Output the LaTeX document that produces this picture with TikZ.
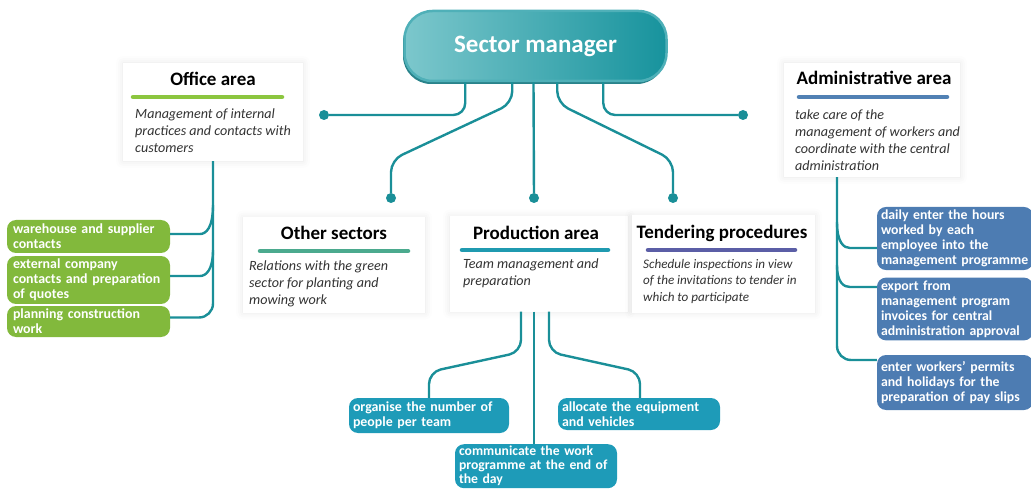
\documentclass[tikz,border=0pt]{standalone}
\usepackage{fontspec}
\setmainfont{Carlito}
\usetikzlibrary{shadows,shadows.blur}

\definecolor{linkteal}{HTML}{1A8F98}
\definecolor{mgrlight}{HTML}{7CC7CC}
\definecolor{mgrdark}{HTML}{17939D}
\definecolor{mgrrim}{HTML}{4FB0B8}
\definecolor{officegreen}{HTML}{8CC63F}
\definecolor{othergreen}{HTML}{4BAA8E}
\definecolor{prodblue}{HTML}{1F9AB0}
\definecolor{tendviolet}{HTML}{5B5EA6}
\definecolor{admblue}{HTML}{5181B4}
\definecolor{greenbox}{HTML}{82B93C}
\definecolor{bluebox}{HTML}{4D7CB2}
\definecolor{tealbox}{HTML}{1E9BB8}
\definecolor{desctext}{HTML}{333333}

\begin{document}
\begin{tikzpicture}
		[x=1pt,y=-1pt,
		 link/.style={draw=linkteal,line width=2.4pt,rounded corners=12pt},
		 dot/.style={circle,fill=linkteal,inner sep=0pt,minimum size=10pt},
		 card/.style={fill=white,inner sep=0pt,
			blur shadow={shadow xshift=0pt,shadow yshift=0pt,shadow blur radius=7pt,shadow opacity=10}},
		 ttl/.style={font=\bfseries\fontsize{19}{22}\selectfont,text=black,inner sep=0pt},
		 bar/.style={line width=4.5pt,line cap=round},
		 desc/.style={anchor=north west,align=left,inner sep=0pt,text=desctext,
			font=\itshape\fontsize{14.1}{17}\selectfont},
		 leaf/.style={rounded corners=9pt,text=white,align=left,inner xsep=4pt,inner ysep=3pt,
			font=\bfseries\fontsize{13.9}{15}\selectfont},
		 mgr/.style={minimum width=262pt,minimum height=70pt,rounded corners=28pt,
			left color=mgrlight,right color=mgrdark,draw=mgrrim,line width=2.5pt,
			text=white,font=\bfseries\fontsize{25}{28}\selectfont,
			drop shadow={shadow xshift=-1.5pt,shadow yshift=-3pt,fill=mgrdark!80!black,opacity=0.9}}]

		\useasboundingbox (0,0) rectangle (1031,489);

		\node[mgr] (mgr) at (535.5,46) {Sector manager};

		\node[card,minimum width=180pt,minimum height=98pt] (offc) at (213,112) {};
		\node[card,minimum width=182pt,minimum height=95pt] (othc) at (334,265) {};
		\node[card,minimum width=178pt,minimum height=95pt] (prodc) at (539,264) {};
		\node[card,minimum width=183pt,minimum height=97pt] (tendc) at (723.5,264) {};
		\node[card,minimum width=176pt,minimum height=114pt] (admc) at (872,120) {};

		\node[ttl] (offt) at (213,79) {Office area};
		\draw[bar,draw=officegreen] (133,97) -- (282,97);
		\node[desc] (offd) at (135,109) {Management of internal\\practices and contacts with\\customers};

		\node[ttl] (otht) at (334,233) {Other sectors};
		\draw[bar,draw=othergreen] (260,251) -- (408,251);
		\node[desc] (othd) at (249,261) {Relations with the green\\sector for planting and\\mowing work};

		\node[ttl] (prodt) at (536,233) {Production area};
		\draw[bar,draw=prodblue] (462,250) -- (608,250);
		\node[desc] (prodd) at (463,259) {Team management and\\preparation};

		\node[ttl] (tendt) at (722,233) {Tendering procedures};
		\draw[bar,draw=tendviolet] (648,250) -- (795,250);
		\node[desc,font=\itshape\fontsize{13.1}{16.5}\selectfont] (tendd) at (643,259)
			{Schedule inspections in view\\of the invitations to tender in\\which to participate};

		\node[ttl] (admt) at (874,78) {Administrative area};
		\draw[bar,draw=admblue] (799,97) -- (947,97);
		\node[desc] (admd) at (795,110) {take care of the\\management of workers and\\coordinate with the central\\administration};

		\node[leaf,fill=greenbox,inner xsep=6pt,text width=151pt,minimum height=33pt] (g1) at (88.5,236.5)
			{warehouse and supplier\\contacts};
		\node[leaf,fill=greenbox,inner xsep=6pt,text width=151pt,minimum height=46pt] (g2) at (88.5,280)
			{external company\\contacts and preparation\\of quotes};
		\node[leaf,fill=greenbox,inner xsep=6pt,text width=151pt,minimum height=31pt] (g3) at (88.5,321.5)
			{planning construction\\work};

		\node[leaf,fill=bluebox,text width=148pt,minimum height=63pt,
			font=\bfseries\fontsize{13.8}{15}\selectfont] (b1) at (955,238.5)
			{daily enter the hours\\worked by each\\employee into the\\management programme};
		\node[leaf,fill=bluebox,text width=148pt,minimum height=62pt,
			font=\bfseries\fontsize{13.8}{15}\selectfont] (b2) at (955,309)
			{export from\\management program\\invoices for central\\administration approval};
		\node[leaf,fill=bluebox,text width=148pt,minimum height=55pt,
			font=\bfseries\fontsize{13.8}{15}\selectfont] (b3) at (955,382.5)
			{enter workers' permits\\and holidays for the\\preparation of pay slips};

		\node[leaf,fill=tealbox,text width=152pt,minimum height=35pt] (t1) at (429,415.5)
			{organise the number of\\people per team};
		\node[leaf,fill=tealbox,text width=154pt,minimum height=44pt,anchor=north,inner ysep=2pt,
			font=\bfseries\fontsize{13.7}{14}\selectfont] (t2) at (536,444)
			{communicate the work\\programme at the end of\\the day};
		\node[leaf,fill=tealbox,text width=154pt,minimum height=32pt] (t3) at (639,414)
			{allocate the equipment\\and vehicles};

		\node[dot] (dl) at (324,115) {};
		\node[dot] (dr) at (743,115) {};
		\node[dot] (ds) at (391,198) {};
		\node[dot] (dp) at (534,198) {};
		\node[dot] (dt) at (673,198) {};

		\draw[link] ([xshift=62pt]mgr.south west) |- (dl);
		\draw[link] ([xshift=200pt]mgr.south west) |- (dr);
		\draw[link] ([xshift=109pt]mgr.south west) -- ++(0,21) -- (ds |- 0,160) -- (ds);
		\draw[link] ([xshift=-2pt]mgr.south) -- (dp);
		\draw[link] ([xshift=154pt]mgr.south west) -- ++(0,21) -- (dt |- 0,160) -- (dt);

		\draw[link,rounded corners=14pt] (offc.south) |- ([yshift=4pt]g3.east);
		\draw[link] (213,205) .. controls (213,228) and (206,234) .. (188,234) -- (g1.east |- 0,234);
		\draw[link] (213,250) .. controls (213,270) and (206,276) .. (188,276) -- (g2.east |- 0,276);

		\draw[link,rounded corners=14pt] (admc.south -| 837,0) |- (b3.west |- 0,360);
		\draw[link] (837,222) .. controls (837,243) and (844,248) .. (862,248) -- (b1.west |- 0,248);
		\draw[link] (837,265) .. controls (837,283) and (844,287) .. (862,287) -- (b2.west |- 0,287);

		\draw[link] (prodc.south -| 521,0) -- (521,352) -- (429,372) -- (t1.north);
		\draw[link] (prodc.south -| 534,0) -- (t2.north -| 534,0);
		\draw[link] (prodc.south -| 549,0) -- (549,352) -- (640,372) -- (t3.north -| 640,0);

	\end{tikzpicture}
\end{document}
